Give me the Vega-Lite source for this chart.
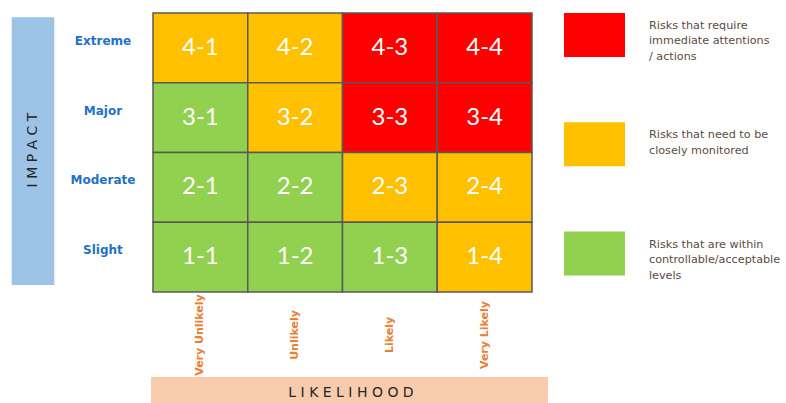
{
  "$schema": "https://vega.github.io/schema/vega-lite/v6.json",
  "width": 786,
  "height": 403,
  "autosize": {"type": "none"},
  "padding": 0,
  "background": "white",
  "config": {"view": {"stroke": null}},
  "datasets": {
    "cells": [
      {"impact": "Extreme", "likelihood": "Very Unlikely", "i": 4, "l": 1, "code": "4-1", "risk": "Medium"},
      {"impact": "Extreme", "likelihood": "Unlikely", "i": 4, "l": 2, "code": "4-2", "risk": "Medium"},
      {"impact": "Extreme", "likelihood": "Likely", "i": 4, "l": 3, "code": "4-3", "risk": "High"},
      {"impact": "Extreme", "likelihood": "Very Likely", "i": 4, "l": 4, "code": "4-4", "risk": "High"},
      {"impact": "Major", "likelihood": "Very Unlikely", "i": 3, "l": 1, "code": "3-1", "risk": "Low"},
      {"impact": "Major", "likelihood": "Unlikely", "i": 3, "l": 2, "code": "3-2", "risk": "Medium"},
      {"impact": "Major", "likelihood": "Likely", "i": 3, "l": 3, "code": "3-3", "risk": "High"},
      {"impact": "Major", "likelihood": "Very Likely", "i": 3, "l": 4, "code": "3-4", "risk": "High"},
      {"impact": "Moderate", "likelihood": "Very Unlikely", "i": 2, "l": 1, "code": "2-1", "risk": "Low"},
      {"impact": "Moderate", "likelihood": "Unlikely", "i": 2, "l": 2, "code": "2-2", "risk": "Low"},
      {"impact": "Moderate", "likelihood": "Likely", "i": 2, "l": 3, "code": "2-3", "risk": "Medium"},
      {"impact": "Moderate", "likelihood": "Very Likely", "i": 2, "l": 4, "code": "2-4", "risk": "Medium"},
      {"impact": "Slight", "likelihood": "Very Unlikely", "i": 1, "l": 1, "code": "1-1", "risk": "Low"},
      {"impact": "Slight", "likelihood": "Unlikely", "i": 1, "l": 2, "code": "1-2", "risk": "Low"},
      {"impact": "Slight", "likelihood": "Likely", "i": 1, "l": 3, "code": "1-3", "risk": "Low"},
      {"impact": "Slight", "likelihood": "Very Likely", "i": 1, "l": 4, "code": "1-4", "risk": "Medium"}
    ],
    "impacts": [
      {"impact": "Extreme", "i": 4},
      {"impact": "Major", "i": 3},
      {"impact": "Moderate", "i": 2},
      {"impact": "Slight", "i": 1}
    ],
    "likelihoods": [
      {"likelihood": "Very Unlikely", "l": 1},
      {"likelihood": "Unlikely", "l": 2},
      {"likelihood": "Likely", "l": 3},
      {"likelihood": "Very Likely", "l": 4}
    ],
    "legend": [
      {"risk": "High", "k": 0, "desc": "Risks that require\nimmediate attentions\n/ actions"},
      {"risk": "Medium", "k": 1, "desc": "Risks that need to be\nclosely monitored"},
      {"risk": "Low", "k": 2, "desc": "Risks that are within\ncontrollable/acceptable\nlevels"}
    ],
    "axes": [{"axis": "IMPACT"}],
    "axes2": [{"axis": "LIKELIHOOD"}]
  },
  "layer": [
    {
      "data": {"name": "axes"},
      "mark": {"type": "rect", "fill": "#9DC3E6"},
      "encoding": {
        "x": {"datum": -1.4913, "type": "quantitative", "scale": {"domain": [-1.6148, 6.6807], "nice": false, "zero": false}, "axis": null},
        "x2": {"datum": -1.0417},
        "y": {"datum": 3.9384, "type": "quantitative", "scale": {"domain": [-1.5914, 4.1864], "nice": false, "zero": false}, "axis": null},
        "y2": {"datum": 0.1004}
      }
    },
    {
      "data": {"name": "axes"},
      "transform": [{"calculate": "join(split(datum.axis, ''), ' ')", "as": "spaced"}],
      "mark": {"type": "text", "angle": 270, "align": "center", "baseline": "middle", "font": "DejaVu Sans", "fontSize": 14, "color": "#262626"},
      "encoding": {
        "x": {"datum": -1.2665, "type": "quantitative"},
        "y": {"datum": 2.0358, "type": "quantitative"},
        "text": {"field": "spaced", "type": "nominal"}
      }
    },
    {
      "data": {"name": "axes2"},
      "mark": {"type": "rect", "fill": "#F8CBAD"},
      "encoding": {
        "x": {"datum": -0.0211, "type": "quantitative"},
        "x2": {"datum": 4.1689},
        "y": {"datum": -1.2186, "type": "quantitative"},
        "y2": {"datum": -1.5914}
      }
    },
    {
      "data": {"name": "axes2"},
      "transform": [{"calculate": "join(split(datum.axis, ''), ' ')", "as": "spaced"}],
      "mark": {"type": "text", "align": "center", "baseline": "middle", "font": "DejaVu Sans", "fontSize": 14, "color": "#262626"},
      "encoding": {
        "x": {"datum": 2.0897, "type": "quantitative"},
        "y": {"datum": -1.448, "type": "quantitative"},
        "text": {"field": "spaced", "type": "nominal"}
      }
    },
    {
      "data": {"name": "cells"},
      "transform": [
        {"calculate": "datum.l - 1", "as": "x0"},
        {"calculate": "datum.l", "as": "x1"},
        {"calculate": "datum.i - 1", "as": "y0"},
        {"calculate": "datum.i", "as": "y1"}
      ],
      "mark": {"type": "rect", "stroke": "#595959", "strokeWidth": 1.5},
      "encoding": {
        "x": {"field": "x0", "type": "quantitative"},
        "x2": {"field": "x1"},
        "y": {"field": "y0", "type": "quantitative"},
        "y2": {"field": "y1"},
        "fill": {"field": "risk", "type": "nominal", "scale": {"domain": ["High", "Medium", "Low"], "range": ["#FF0000", "#FFC000", "#92D050"]}, "legend": null}
      }
    },
    {
      "data": {"name": "cells"},
      "transform": [
        {"calculate": "datum.l - 0.5", "as": "xc"},
        {"calculate": "datum.i - 0.5", "as": "yc"}
      ],
      "mark": {"type": "text", "align": "center", "baseline": "middle", "font": "Lato", "fontSize": 24, "color": "white"},
      "encoding": {
        "x": {"field": "xc", "type": "quantitative"},
        "y": {"field": "yc", "type": "quantitative"},
        "text": {"field": "code", "type": "nominal"}
      }
    },
    {
      "data": {"name": "impacts"},
      "transform": [{"calculate": "datum.i - 0.5", "as": "yc"}],
      "mark": {"type": "text", "align": "center", "baseline": "middle", "dy": -7, "font": "DejaVu Sans", "fontWeight": "bold", "fontSize": 12, "color": "#1F72C4"},
      "encoding": {
        "x": {"datum": -0.528, "type": "quantitative"},
        "y": {"field": "yc", "type": "quantitative"},
        "text": {"field": "impact", "type": "nominal"}
      }
    },
    {
      "data": {"name": "likelihoods"},
      "transform": [{"calculate": "datum.l - 0.5", "as": "xc"}],
      "mark": {"type": "text", "angle": 270, "align": "center", "baseline": "middle", "font": "DejaVu Sans", "fontWeight": "bold", "fontSize": 11, "color": "#ED7D31"},
      "encoding": {
        "x": {"field": "xc", "type": "quantitative"},
        "y": {"datum": -0.6165, "type": "quantitative"},
        "text": {"field": "likelihood", "type": "nominal"}
      }
    },
    {
      "data": {"name": "legend"},
      "transform": [
        {"calculate": "4.0 - 1.5665 * datum.k", "as": "top"},
        {"calculate": "datum.top - 0.63", "as": "bot"}
      ],
      "mark": {"type": "rect"},
      "encoding": {
        "x": {"datum": 4.3377, "type": "quantitative"},
        "x2": {"datum": 4.9815},
        "y": {"field": "top", "type": "quantitative"},
        "y2": {"field": "bot"},
        "fill": {"field": "risk", "type": "nominal", "legend": null}
      }
    },
    {
      "data": {"name": "legend"},
      "transform": [
        {"calculate": "4.0 - 1.5665 * datum.k - 0.1", "as": "ty"}
      ],
      "mark": {"type": "text", "align": "left", "baseline": "top", "lineBreak": "\n", "lineHeight": 15.5, "font": "DejaVu Sans", "fontSize": 11.2, "color": "#5B4B43"},
      "encoding": {
        "x": {"datum": 5.2348, "type": "quantitative"},
        "y": {"field": "ty", "type": "quantitative"},
        "text": {"field": "desc", "type": "nominal"}
      }
    }
  ]
}
